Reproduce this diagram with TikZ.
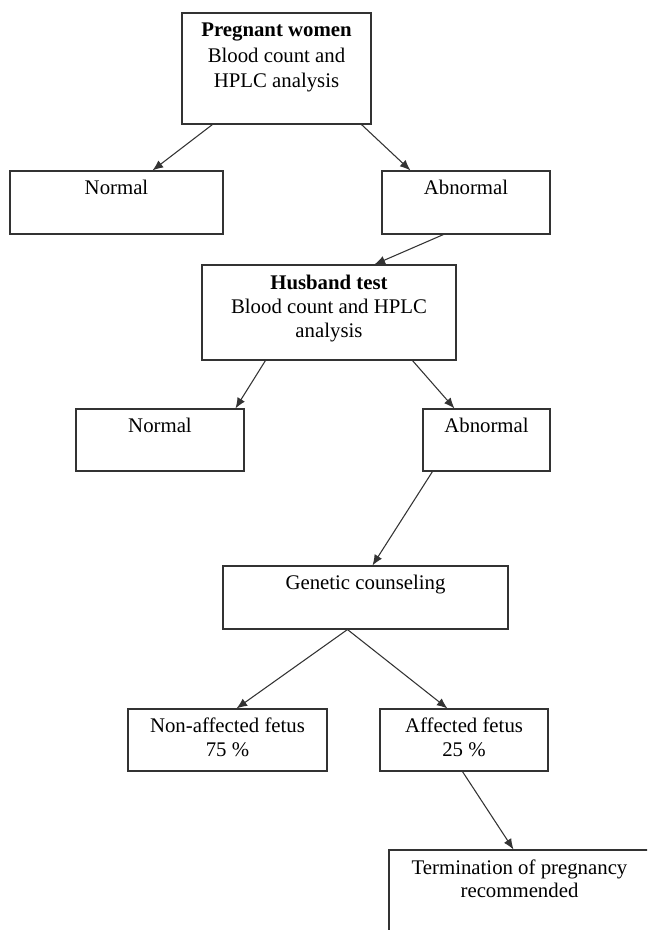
\documentclass[tikz,border=0pt]{standalone}
\usepackage{fontspec}
\setmainfont{Liberation Serif}
\usetikzlibrary{arrows.meta,fit,calc}
\begin{document}
\begin{tikzpicture}[x=0.75pt,y=-0.75pt,
  box/.style={draw=black!80, line width=0.8pt, inner sep=0pt},
  txt/.style={anchor=north, inner sep=0pt, align=center, font=\fontsize{15.6}{17.6}\selectfont},
  arr/.style={draw=black!80, line width=0.8pt, -{Latex[length=8pt,width=6.5pt]}}]
\useasboundingbox (0,0) rectangle (647,930);
\clip (0,0) rectangle (647,930);
% boxes
\node[box, fit={(182,13) (371,124)}] (top) {};
\node[box, fit={(10,171) (223,234)}] (n1) {};
\node[box, fit={(382,171) (550,234)}] (a1) {};
\node[box, fit={(202,265) (456,360)}] (husb) {};
\node[box, fit={(76,409) (244,471)}] (n2) {};
\node[box, fit={(423,409) (550,471)}] (a2) {};
\node[box, fit={(223,566) (508,629)}] (gen) {};
\node[box, fit={(128,709) (327,771)}] (naf) {};
\node[box, fit={(380,709) (548,771)}] (af) {};
\node[box, fit={(389,850) (650,945)}] (term) {};
% texts
\node[txt] (ttop) at ($(top.north)+(0,7.6)$) {\strut\textbf{Pregnant women}\\[1.5pt]Blood count and\\[1.5pt]HPLC analysis};
\node[txt] (tn1) at ($(n1.north)+(0,7.6)$) {\strut Normal};
\node[txt] (ta1) at ($(a1.north)+(0,7.6)$) {\strut Abnormal};
\node[txt] (thusb) at ($(husb.north)+(0,8.2)$) {\strut\textbf{Husband test}\\[0.5pt]Blood count and HPLC\\[0.5pt]analysis};
\node[txt] (tn2) at ($(n2.north)+(0,7.6)$) {\strut Normal};
\node[txt] (ta2) at ($(a2.north)+(0,7.6)$) {\strut Abnormal};
\node[txt] (tgen) at ($(gen.north)+(0,7)$) {\strut Genetic counseling};
\node[txt] (tnaf) at ($(naf.north)+(0,7.6)$) {\strut Non-affected fetus\\75 \%};
\node[txt] (taf) at ($(af.north)+(0,7.6)$) {\strut Affected fetus\\25 \%};
\node[txt] (tterm) at ($(term.north)+(0,8.2)$) {\strut Termination of pregnancy\\recommended};
% arrows
\draw[arr] ($(top.south west)+(31,0)$) -- ($(n1.north west)+(143,0)$);
\draw[arr] ($(top.south west)+(180,0)$) -- ($(a1.north west)+(29,0)$);
\draw[arr] ($(a1.south west)+(62,0)$) -- ($(husb.north west)+(173,0)$);
\draw[arr] ($(husb.south west)+(64,0)$) -- ($(n2.north west)+(160,0)$);
\draw[arr] ($(husb.south west)+(211,0)$) -- ($(a2.north west)+(32,0)$);
\draw[arr] ($(a2.south west)+(10,0)$) -- ($(gen.north west)+(150,0)$);
\draw[arr] ($(gen.south west)+(125,0)$) -- ($(naf.north west)+(109,0)$);
\draw[arr] ($(gen.south west)+(125,0)$) -- ($(af.north west)+(68,0)$);
\draw[arr] ($(af.south west)+(83,0)$) -- ($(term.north west)+(125,0)$);
\end{tikzpicture}
\end{document}
